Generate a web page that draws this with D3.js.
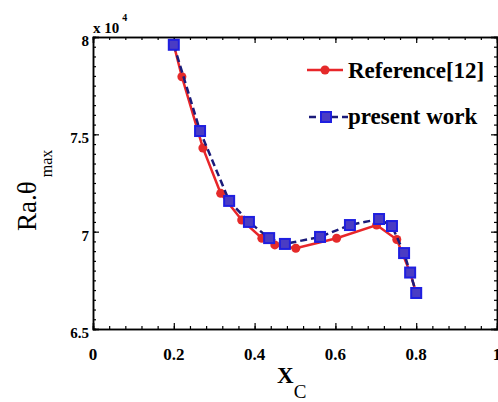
<!DOCTYPE html>
<html>
<head>
<meta charset="utf-8">
<script src="https://cdn.jsdelivr.net/npm/d3@7"></script>
<style>
  body { margin: 0; background: #fff; }
  text { font-family: "Liberation Serif", "Times New Roman", serif; font-weight: bold; }
</style>
</head>
<body>
<svg id="chart" width="498" height="402"></svg>
<script>
// data (y values in units of 10^4)
const refX = [0.2, 0.22, 0.272, 0.316, 0.368, 0.418, 0.45, 0.502, 0.603, 0.702, 0.752, 0.785, 0.8];
const refY = [7.96, 7.796, 7.43, 7.197, 7.06, 6.966, 6.932, 6.915, 6.966, 7.034, 6.96, 6.79, 6.685];
const presX = [0.2, 0.265, 0.337, 0.386, 0.436, 0.475, 0.562, 0.636, 0.708, 0.74, 0.77, 0.785, 0.8];
const presY = [7.96, 7.517, 7.158, 7.05, 6.967, 6.937, 6.973, 7.034, 7.065, 7.029, 6.89, 6.79, 6.685];
const xTicks = [0, 0.2, 0.4, 0.6, 0.8, 1];
const yTicks = [6.5, 7, 7.5, 8];
const seriesNames = ["Reference[12]", "present work"];

const svg = d3.select("#chart");
const margin = {left: 93, top: 37, right: 1, bottom: 73};
const W = 498 - margin.left - margin.right,
  H = 402 - margin.top - margin.bottom;

const x = d3.scaleLinear().domain([0, 1]).range([0, W]);
const y = d3.scaleLinear().domain([6.5, 8]).range([H, 0]);

const g = svg.append("g").attr("transform", `translate(${margin.left},${margin.top})`);

// minor ticks
const xMinor = d3.range(0, 1.0001, 0.04);
const yMinor = d3.range(6.5, 8.0001, 0.05);

// axes (ticks pointing inward)
g.append("g").attr("transform", `translate(0,${H})`)
  .call(d3.axisTop(x).tickValues(xMinor).tickSize(3).tickFormat(""));
g.append("g").attr("transform", `translate(0,${H})`)
  .call(d3.axisTop(x).tickValues(xTicks).tickSize(6).tickFormat(""));
g.append("g")
  .call(d3.axisBottom(x).tickValues(xMinor).tickSize(3).tickFormat(""));
g.append("g")
  .call(d3.axisBottom(x).tickValues(xTicks).tickSize(6).tickFormat(""));
g.append("g")
  .call(d3.axisRight(y).tickValues(yMinor).tickSize(3).tickFormat(""));
g.append("g")
  .call(d3.axisRight(y).tickValues(yTicks).tickSize(6).tickFormat(""));
g.append("g").attr("transform", `translate(${W},0)`)
  .call(d3.axisLeft(y).tickValues(yMinor).tickSize(3).tickFormat(""));
g.append("g").attr("transform", `translate(${W},0)`)
  .call(d3.axisLeft(y).tickValues(yTicks).tickSize(6).tickFormat(""));

g.selectAll(".domain").attr("stroke", "#000").attr("stroke-width", 1.5);
g.selectAll(".tick line").attr("stroke", "#000").attr("stroke-width", 1.2);

// tick labels
g.selectAll(".xlab").data(xTicks).enter().append("text")
  .attr("x", d => x(d)).attr("y", H + 31)
  .attr("text-anchor", "middle").style("font-size", "17px")
  .text(d => d);
g.selectAll(".ylab").data(yTicks).enter().append("text")
  .attr("x", -4).attr("y", d => y(d) + 9)
  .attr("text-anchor", "end").style("font-size", "15px")
  .text(d => d);

// multiplier
const mult = g.append("text").attr("x", 0).attr("y", -4).style("font-size", "15px");
mult.append("tspan").text("x 10");
mult.append("tspan").attr("dy", -12).attr("dx", 3).style("font-size", "10px").text("4");

// axis titles
const xt = svg.append("text").attr("x", 277).attr("y", 383).style("font-size", "23px");
xt.append("tspan").text("X");
xt.append("tspan").attr("dy", 15).style("font-size", "19px").style("font-weight", "normal").text("C");

const yt = svg.append("text").attr("transform", "translate(36,231) rotate(-90)").style("font-size", "27px");
yt.append("tspan").style("font-weight", "normal").text("Ra.");
yt.append("tspan").style("font-weight", "normal").text("\u03B8");
yt.append("tspan").attr("dy", 16).attr("dx", 4).style("font-size", "16px").style("font-weight", "normal").text("max");

// series
const refData = refX.map((d, i) => [d, refY[i]]);
const presData = presX.map((d, i) => [d, presY[i]]);
const line = d3.line().x(d => x(d[0])).y(d => y(d[1]));

g.append("path").datum(refData)
  .attr("d", line).attr("fill", "none")
  .attr("stroke", "#e8262a").attr("stroke-width", 2.5);
g.selectAll(".refpt").data(refData).enter().append("circle")
  .attr("cx", d => x(d[0])).attr("cy", d => y(d[1])).attr("r", 4.5)
  .attr("fill", "#e52a2a");

g.append("path").datum(presData)
  .attr("d", line).attr("fill", "none")
  .attr("stroke", "#1b1b7a").attr("stroke-width", 2.5)
  .attr("stroke-dasharray", "7,4");
g.selectAll(".prespt").data(presData).enter().append("rect")
  .attr("x", d => x(d[0]) - 5).attr("y", d => y(d[1]) - 5)
  .attr("width", 10).attr("height", 10)
  .attr("fill", "#4a3cc4").attr("stroke", "#1f1fe0").attr("stroke-width", 2);

// legend
const leg = svg.append("g");
leg.append("line").attr("x1", 307).attr("x2", 343).attr("y1", 70).attr("y2", 70)
  .attr("stroke", "#e8262a").attr("stroke-width", 2.5);
leg.append("circle").attr("cx", 325).attr("cy", 70).attr("r", 4.5).attr("fill", "#e52a2a");
leg.append("text").attr("x", 348).attr("y", 78).style("font-size", "23px").text(seriesNames[0]);

leg.append("line").attr("x1", 309).attr("x2", 348).attr("y1", 117).attr("y2", 117)
  .attr("stroke", "#1b1b7a").attr("stroke-width", 2.5).attr("stroke-dasharray", "7,4");
leg.append("rect").attr("x", 321).attr("y", 112).attr("width", 10).attr("height", 10)
  .attr("fill", "#4a3cc4").attr("stroke", "#1f1fe0").attr("stroke-width", 2);
leg.append("text").attr("x", 348).attr("y", 124).style("font-size", "23px").text(seriesNames[1]);
</script>
</body>
</html>
